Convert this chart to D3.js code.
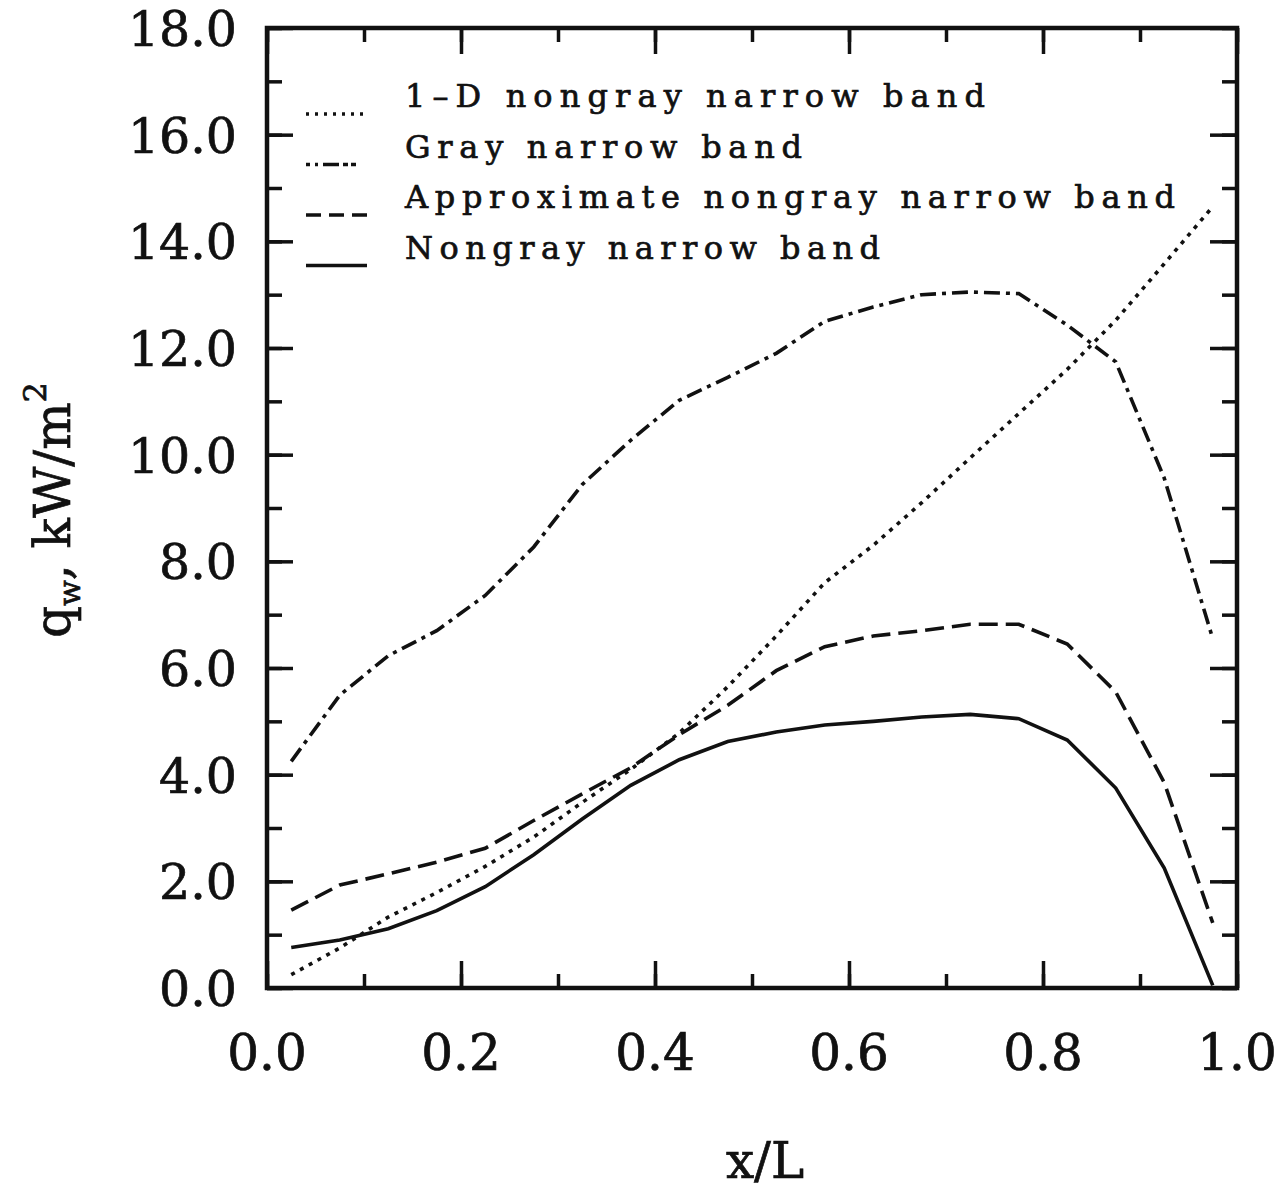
<!DOCTYPE html>
<html>
<head>
<meta charset="utf-8">
<script src="https://d3js.org/d3.v7.min.js"></script>
<style>
  body { margin: 0; background: #fff; }
  svg { display: block; }
  text { font-family: "DejaVu Serif", serif; fill: #111; stroke: #111; stroke-width: 0.7px; }
</style>
</head>
<body>
<svg id="svg0" width="1287" height="1194"></svg>
<script>
// x positions of the computed points
var xs = [0.025, 0.075, 0.125, 0.175, 0.225, 0.275, 0.325, 0.375, 0.425, 0.475,
          0.525, 0.575, 0.625, 0.675, 0.725, 0.775, 0.825, 0.875, 0.925, 0.975];

// wall heat flux, kW/m^2
var oneD = [0.25, 0.75, 1.33, 1.79, 2.28, 2.83, 3.48, 4.10, 4.78, 5.65,
            6.60, 7.60, 8.30, 9.10, 9.94, 10.77, 11.60, 12.52, 13.58, 14.65];
var grayNB = [4.25, 5.49, 6.23, 6.70, 7.36, 8.27, 9.44, 10.27, 11.02, 11.45,
              11.90, 12.50, 12.77, 13.00, 13.05, 13.02, 12.43, 11.74, 9.56, 6.55];
var approxNB = [1.46, 1.93, 2.14, 2.36, 2.62, 3.14, 3.64, 4.13, 4.75, 5.30,
                5.95, 6.40, 6.60, 6.70, 6.82, 6.82, 6.45, 5.55, 3.85, 1.22];
var nongrayNB = [0.76, 0.90, 1.11, 1.45, 1.90, 2.50, 3.17, 3.80, 4.28, 4.62,
                 4.80, 4.93, 5.00, 5.08, 5.13, 5.05, 4.65, 3.75, 2.25, 0.05];

var legendLabels = ['1\u2013D nongray narrow band', 'Gray narrow band',
                    'Approximate nongray narrow band', 'Nongray narrow band'];
var legendWidths = [580, 397, 770, 475];

var xTicks = [0, 0.2, 0.4, 0.6, 0.8, 1.0];
var yTicks = [0, 2, 4, 6, 8, 10, 12, 14, 16, 18];

var plotLeft = 267, plotRight = 1237, plotTop = 28, plotBottom = 988;

var svg0 = d3.select('#svg0');

var x = d3.scaleLinear().domain([0, 1]).range([plotLeft, plotRight]);
var y = d3.scaleLinear().domain([0, 18]).range([plotBottom, plotTop]);

// tick marks, inside on all four sides
var g = svg0.append('g');
var xMinor = d3.range(0, 11).map(function(i){ return i / 10; });
var yMinor = d3.range(0, 19);

g.append('g').attr('transform', 'translate(0,' + plotBottom + ')')
    .call(d3.axisTop(x).tickValues(xMinor).tickFormat('').tickSizeOuter(0)
        .tickSizeInner(14));
g.append('g').attr('transform', 'translate(0,' + plotBottom + ')')
    .call(d3.axisTop(x).tickValues(xTicks).tickFormat('').tickSizeOuter(0)
        .tickSizeInner(27));
g.append('g').attr('transform', 'translate(0,' + plotTop + ')')
    .call(d3.axisBottom(x).tickValues(xMinor).tickFormat('').tickSizeOuter(0)
        .tickSizeInner(14));
g.append('g').attr('transform', 'translate(0,' + plotTop + ')')
    .call(d3.axisBottom(x).tickValues(xTicks).tickFormat('').tickSizeOuter(0)
        .tickSizeInner(26));
g.append('g').attr('transform', 'translate(' + plotLeft + ',0)')
    .call(d3.axisRight(y).tickValues(yMinor).tickFormat('').tickSizeOuter(0)
        .tickSizeInner(15));
g.append('g').attr('transform', 'translate(' + plotLeft + ',0)')
    .call(d3.axisRight(y).tickValues(yTicks).tickFormat('').tickSizeOuter(0)
        .tickSizeInner(26));
g.append('g').attr('transform', 'translate(' + plotRight + ',0)')
    .call(d3.axisLeft(y).tickValues(yMinor).tickFormat('').tickSizeOuter(0)
        .tickSizeInner(15));
g.append('g').attr('transform', 'translate(' + plotRight + ',0)')
    .call(d3.axisLeft(y).tickValues(yTicks).tickFormat('').tickSizeOuter(0)
        .tickSizeInner(27));
g.selectAll('.domain').remove();
g.selectAll('line').attr('stroke', '#111').attr('stroke-width', 3.5);

// frame
svg0.append('rect')
    .attr('x', plotLeft).attr('y', plotTop)
    .attr('width', plotRight - plotLeft).attr('height', plotBottom - plotTop)
    .attr('fill', 'none').attr('stroke', '#111').attr('stroke-width', 4.5);

// tick labels
svg0.selectAll('.xlab')
    .data(xTicks)
    .enter()
    .append('text')
    .attr('x', function(d){ return x(d); })
    .attr('y', 1070)
    .attr('text-anchor', 'middle')
    .attr('font-size', 50)
    .text(function(d){ return d3.format('.1f')(d); });

svg0.selectAll('.ylab')
    .data(yTicks)
    .enter()
    .append('text')
    .attr('x', 237)
    .attr('y', function(d){ return y(d) + 18; })
    .attr('text-anchor', 'end')
    .attr('font-size', 49)
    .text(function(d){ return d3.format('.1f')(d); });

// axis titles
svg0.append('text')
    .attr('x', 765).attr('y', 1178)
    .attr('text-anchor', 'middle')
    .attr('font-size', 50)
    .text('x/L');

var yt = svg0.append('text')
    .attr('transform', 'translate(70,510) rotate(-90)')
    .attr('text-anchor', 'middle')
    .attr('font-size', 50);
yt.append('tspan').text('q');
yt.append('tspan').attr('font-size', 30).attr('dy', 10).text('w');
yt.append('tspan').attr('dy', -10).text(',  kW/m');
yt.append('tspan').attr('font-size', 32).attr('dy', -24).text('2');

// curves
var series = [
    {vals: oneD, dash: '4,6'},
    {vals: grayNB, dash: '16,6,4,6'},
    {vals: approxNB, dash: '19,8'},
    {vals: nongrayNB, dash: null}
];

var line = d3.line()
    .x(function(d){ return x(d[0]); })
    .y(function(d){ return y(d[1]); });

svg0.selectAll('.curve')
    .data(series)
    .enter()
    .append('path')
    .attr('d', function(s){ return line(xs.map(function(v, i){ return [v, s.vals[i]]; })); })
    .attr('fill', 'none')
    .attr('stroke', '#111')
    .attr('stroke-width', 3.6)
    .attr('stroke-dasharray', function(s){ return s.dash; });

// legend
var legDash = ['3,6', '4,5,3,5,16', '15,8', null];
var leg = svg0.selectAll('.leg')
    .data(legendLabels)
    .enter()
    .append('g')
    .attr('transform', function(d, i){ return 'translate(0,' + (107 + i * 50.5) + ')'; });

leg.append('line')
    .attr('x1', 306).attr('x2', 367)
    .attr('y1', 7).attr('y2', 7)
    .attr('stroke', '#111').attr('stroke-width', 3.5)
    .attr('stroke-dasharray', function(d, i){ return legDash[i]; });

leg.append('text')
    .attr('x', 405).attr('y', 0)
    .attr('font-size', 32)
    .attr('textLength', function(d, i){ return legendWidths[i]; })
    .attr('lengthAdjust', 'spacing')
    .text(function(d){ return d; });
</script>
</body>
</html>
